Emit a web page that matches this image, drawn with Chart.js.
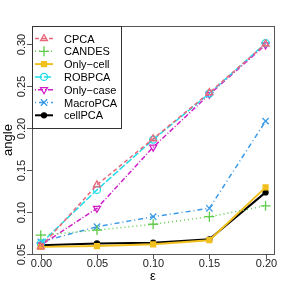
<!DOCTYPE html>
<html>
<head>
<meta charset="utf-8">
<script src="https://cdn.jsdelivr.net/npm/chart.js"></script>
<style>
  html, body { margin: 0; padding: 0; background: #fff; }
  #wrap { width: 288px; height: 288px; }
</style>
</head>
<body>
<div id="wrap"><canvas id="myChart" width="288" height="288"></canvas></div>
<script>
const eps = [0.00, 0.05, 0.10, 0.15, 0.20];
const xTicks = [0.00, 0.05, 0.10, 0.15, 0.20];
const yTicks = [0.05, 0.10, 0.15, 0.20, 0.25, 0.30];

const cpca     = [0.058, 0.132, 0.187, 0.242, 0.300];
const candes   = [0.072, 0.078, 0.085, 0.094, 0.107];
const onlyCell = [0.058, 0.059, 0.061, 0.066, 0.129];
const robpca   = [0.062, 0.126, 0.186, 0.241, 0.301];
const onlyCase = [0.060, 0.104, 0.177, 0.240, 0.299];
const macroPca = [0.064, 0.082, 0.094, 0.104, 0.208];
const cellPca  = [0.060, 0.062, 0.063, 0.067, 0.123];

const FONT = 'Liberation Sans, Arial, sans-serif';

function series(label, values, color, dash, width, style, opts) {
  return Object.assign({
    label: label,
    data: eps.map((x, i) => ({ x: x, y: values[i] })),
    borderColor: color,
    backgroundColor: color,
    borderDash: dash,
    borderWidth: width,
    pointStyle: style,
    pointRadius: 4,
    pointBorderColor: color,
    pointBackgroundColor: 'rgba(0,0,0,0)',
    pointBorderWidth: 1.3,
    tension: 0
  }, opts || {});
}

const datasets = [
  series('CPCA', cpca, '#e8677a', [4, 3], 1.5, 'triangle'),
  series('CANDES', candes, '#5fcc4a', [1, 3], 1.5, 'cross', { pointRadius: 5 }),
  series('Only\u2212cell', onlyCell, '#f2c01e', [], 2, 'rect', { pointBackgroundColor: '#f2c01e', pointRadius: 3.5 }),
  series('ROBPCA', robpca, '#22dde8', [7, 2], 1.5, 'circle', { pointRadius: 3.5 }),
  series('Only\u2212case', onlyCase, '#d020c8', [1, 2, 5, 2], 1.5, 'triangle', { pointRotation: 180 }),
  series('MacroPCA', macroPca, '#3a9ae8', [1, 3, 5, 3], 1.5, 'crossRot', { pointRadius: 4.5 }),
  series('cellPCA', cellPca, '#000000', [], 2, 'circle', { pointBackgroundColor: '#000000', pointRadius: 2.5 })
];

const frame = {
  id: 'frame',
  afterDraw(chart) {
    const ctx = chart.ctx;
    const a = chart.chartArea;
    const xs = chart.scales.x, ys = chart.scales.y;
    ctx.save();
    ctx.strokeStyle = '#555';
    ctx.lineWidth = 1;
    ctx.setLineDash([]);
    ctx.strokeRect(a.left + 0.5, a.top + 0.5, a.right - a.left, a.bottom - a.top);
    ctx.fillStyle = '#222';
    ctx.font = '11px ' + FONT;
    // x ticks
    ctx.textAlign = 'center';
    ctx.textBaseline = 'top';
    xTicks.forEach(v => {
      const px = Math.round(xs.getPixelForValue(v)) + 0.5;
      ctx.beginPath();
      ctx.moveTo(px, a.bottom);
      ctx.lineTo(px, a.bottom + 5);
      ctx.stroke();
      ctx.fillText(v.toFixed(2), px, a.bottom + 4);
    });
    // y ticks, rotated labels
    yTicks.forEach(v => {
      const py = Math.round(ys.getPixelForValue(v)) + 0.5;
      ctx.beginPath();
      ctx.moveTo(a.left, py);
      ctx.lineTo(a.left - 5, py);
      ctx.stroke();
      ctx.save();
      ctx.translate(a.left - 10, py);
      ctx.rotate(-Math.PI / 2);
      ctx.textAlign = 'center';
      ctx.textBaseline = 'middle';
      ctx.fillText(v.toFixed(2), 0, 0);
      ctx.restore();
    });
    // axis titles
    ctx.fillStyle = '#000';
    ctx.font = '13px ' + FONT;
    ctx.textAlign = 'center';
    ctx.textBaseline = 'middle';
    ctx.fillText('\u03b5', (a.left + a.right) / 2, 276);
    ctx.save();
    ctx.translate(8, (a.top + a.bottom) / 2);
    ctx.rotate(-Math.PI / 2);
    ctx.fillText('angle', 0, 0);
    ctx.restore();

    // legend
    const lx = a.left, ly = a.top, lw = 89, lh = 102;
    ctx.fillStyle = '#fff';
    ctx.fillRect(lx, ly, lw, lh);
    ctx.strokeStyle = '#333';
    ctx.strokeRect(lx + 0.5, ly + 0.5, lw, lh);
    ctx.font = '11px ' + FONT;
    ctx.textAlign = 'left';
    chart.data.datasets.forEach((d, i) => {
      const y = ly + 12.5 + i * 12.8;
      ctx.strokeStyle = d.borderColor;
      ctx.lineWidth = d.borderWidth;
      ctx.setLineDash(d.borderDash);
      ctx.beginPath();
      ctx.moveTo(lx + 3, y);
      ctx.lineTo(lx + 21, y);
      ctx.stroke();
      ctx.setLineDash([]);
      ctx.lineWidth = d.pointBorderWidth;
      ctx.fillStyle = d.pointBackgroundColor;
      Chart.helpers.drawPoint(ctx, {
        pointStyle: d.pointStyle,
        radius: d.pointRadius,
        rotation: d.pointRotation || 0,
        borderWidth: d.pointBorderWidth
      }, lx + 12, y);
      ctx.fillStyle = '#000';
      ctx.fillText(d.label, lx + 32, y + 1);
    });
    ctx.restore();
  }
};

const ctx = document.getElementById('myChart').getContext('2d');
const myChart = new Chart(ctx, {
  type: 'line',
  data: { datasets: datasets },
  options: {
    responsive: false,
    animation: false,
    devicePixelRatio: 1,
    layout: { padding: { left: 32, top: 26, right: 14, bottom: 34 } },
    plugins: { legend: { display: false }, tooltip: { enabled: false } },
    scales: {
      x: { type: 'linear', display: false, min: -0.0078, max: 0.2075 },
      y: { type: 'linear', display: false, min: 0.0495, max: 0.3215 }
    }
  },
  plugins: [frame]
});
</script>
</body>
</html>
